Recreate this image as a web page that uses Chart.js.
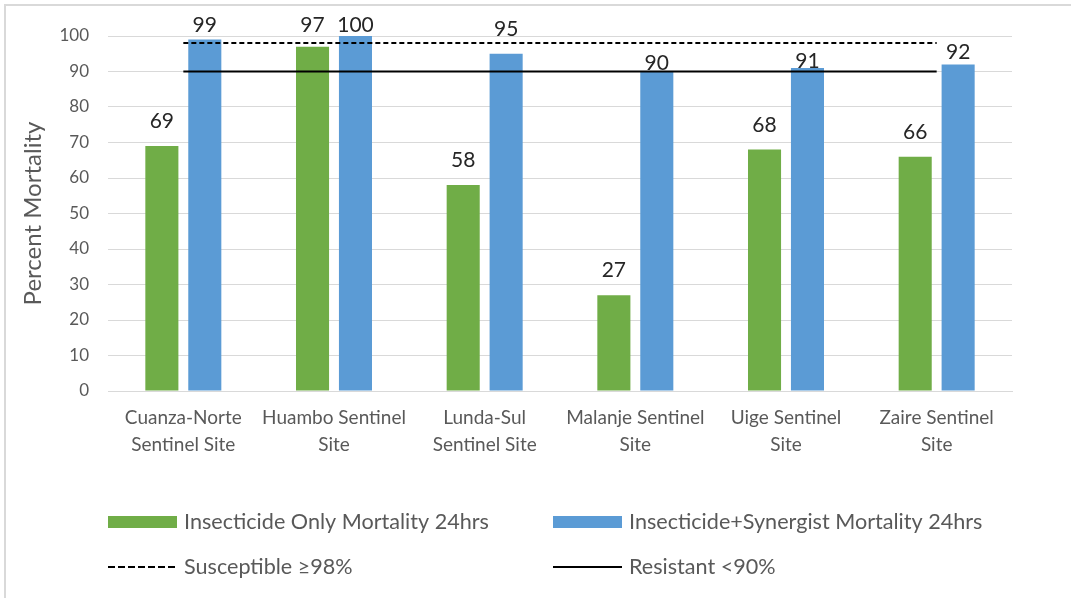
<!DOCTYPE html>
<html>
<head>
<meta charset="utf-8">
<script src="https://cdn.jsdelivr.net/npm/chart.js@4/dist/chart.umd.min.js"></script>
<style>
  html, body { margin: 0; padding: 0; background: #fff; }
  #wrap { position: relative; width: 1071px; height: 598px; }
</style>
</head>
<body>
<div id="wrap"><canvas id="mortalityChart" width="1071" height="598"></canvas></div>
<script>
const sites = [
  ['Cuanza-Norte', 'Sentinel Site'],
  ['Huambo Sentinel', 'Site'],
  ['Lunda-Sul', 'Sentinel Site'],
  ['Malanje Sentinel', 'Site'],
  ['Uige Sentinel', 'Site'],
  ['Zaire Sentinel', 'Site'],
];
const insecticideOnly = [69, 97, 58, 27, 68, 66];
const insecticideSynergist = [99, 100, 95, 90, 91, 92];
const susceptibleLine = [98, 98, 98, 98, 98, 98];
const resistantLine = [90, 90, 90, 90, 90, 90];
const yTicks = [0, 10, 20, 30, 40, 50, 60, 70, 80, 90, 100];

const FONT = 'Lato, "Open Sans", sans-serif';
const GREY_TEXT = '#595959';
const GRID = '#d9d9d9';

// white page with a light frame
const framePlugin = {
  id: 'frame',
  beforeDraw(chart) {
    const { ctx, width, height } = chart;
    ctx.save();
    ctx.fillStyle = '#fff';
    ctx.fillRect(0, 0, width, height);
    ctx.strokeStyle = GRID;
    ctx.lineWidth = 2;
    ctx.strokeRect(5, 5, width + 20, height + 20);
    ctx.restore();
  },
};

// value labels above each bar
const barValuePlugin = {
  id: 'barValues',
  afterDatasetsDraw(chart, args, opts) {
    const { ctx } = chart;
    ctx.save();
    ctx.font = `21px ${FONT}`;
    ctx.fillStyle = '#262626';
    ctx.textAlign = 'center';
    ctx.textBaseline = 'alphabetic';
    chart.data.datasets.forEach((ds, di) => {
      if (ds.type !== 'bar') return;
      const meta = chart.getDatasetMeta(di);
      const gaps = opts.gaps[di] || [];
      meta.data.forEach((bar, i) => {
        const gap = gaps[i] ?? opts.defaultGap;
        const y = Math.max(bar.y - gap, opts.minBaseline);
        ctx.fillText(String(ds.data[i]), bar.x, y);
      });
    });
    ctx.restore();
  },
};

// two-column legend under the axis
const gridLegendPlugin = {
  id: 'gridLegend',
  afterDraw(chart) {
    const { ctx, chartArea } = chart;
    const cols = [chartArea.left, chartArea.left + 445];
    const rows = [chartArea.bottom + 131, chartArea.bottom + 176];
    const swatchW = 69;
    ctx.save();
    ctx.font = `21.6px ${FONT}`;
    ctx.textBaseline = 'middle';
    ctx.textAlign = 'left';
    chart.data.datasets.forEach((ds, i) => {
      const x = cols[i % 2];
      const y = rows[Math.floor(i / 2)];
      if (ds.type === 'bar') {
        ctx.fillStyle = ds.backgroundColor;
        ctx.fillRect(x, y - 6, swatchW, 12);
      } else {
        const dashed = Array.isArray(ds.borderDash) && ds.borderDash.length > 0;
        ctx.strokeStyle = ds.borderColor;
        ctx.lineWidth = 2;
        ctx.setLineDash(dashed ? [7, 3] : []);
        ctx.beginPath();
        ctx.moveTo(x, y);
        ctx.lineTo(x + swatchW, y);
        ctx.stroke();
        ctx.setLineDash([]);
      }
      ctx.fillStyle = GREY_TEXT;
      ctx.fillText(ds.label, x + swatchW + 7, y);
    });
    ctx.restore();
  },
};

const refLine = (label, data, dash) => ({
  type: 'line',
  label,
  data,
  borderColor: '#000',
  backgroundColor: '#000',
  borderWidth: 2,
  borderDash: dash,
  pointRadius: 0,
  pointHoverRadius: 0,
  fill: false,
  order: 0,
});

const barSet = (label, data, color) => ({
  type: 'bar',
  label,
  data,
  backgroundColor: color,
  borderWidth: 0,
  categoryPercentage: 0.57,
  barPercentage: 0.77,
  order: 1,
});

new Chart(document.getElementById('mortalityChart'), {
  data: {
    labels: sites,
    datasets: [
      barSet('Insecticide Only Mortality 24hrs', insecticideOnly, '#70AD47'),
      barSet('Insecticide+Synergist Mortality 24hrs', insecticideSynergist, '#5B9BD5'),
      refLine('Susceptible ≥98%', susceptibleLine, [5, 3]),
      refLine('Resistant <90%', resistantLine, []),
    ],
  },
  options: {
    responsive: false,
    animation: false,
    layout: { padding: { top: 36, right: 59, left: 0, bottom: 0 } },
    plugins: {
      legend: { display: false },
      tooltip: { enabled: false },
      barValues: {
        defaultGap: 18,
        minBaseline: 32,
        gaps: { 1: [18, 18, 18, 2, 0, 5] },
      },
    },
    scales: {
      x: {
        type: 'category',
        grid: { display: false, drawTicks: false },
        border: { color: GRID, width: 1 },
        ticks: {
          color: GREY_TEXT,
          font: { family: FONT, size: 19, lineHeight: 1.42 },
          padding: 13,
          maxRotation: 0,
          autoSkip: false,
        },
        afterFit(scale) { scale.height = 207; },
      },
      y: {
        min: 0,
        max: 100,
        afterBuildTicks(scale) { scale.ticks = yTicks.map((v) => ({ value: v })); },
        grid: { color: GRID, lineWidth: 1, drawTicks: false },
        border: { display: false },
        ticks: {
          color: GREY_TEXT,
          font: { family: FONT, size: 17 },
          padding: 19,
        },
        title: {
          display: true,
          text: 'Percent Mortality',
          color: GREY_TEXT,
          font: { family: FONT, size: 24 },
          padding: { top: 19, bottom: 0 },
        },
        afterFit(scale) { scale.width = 108; },
      },
    },
  },
  plugins: [framePlugin, barValuePlugin, gridLegendPlugin],
});
</script>
</body>
</html>
